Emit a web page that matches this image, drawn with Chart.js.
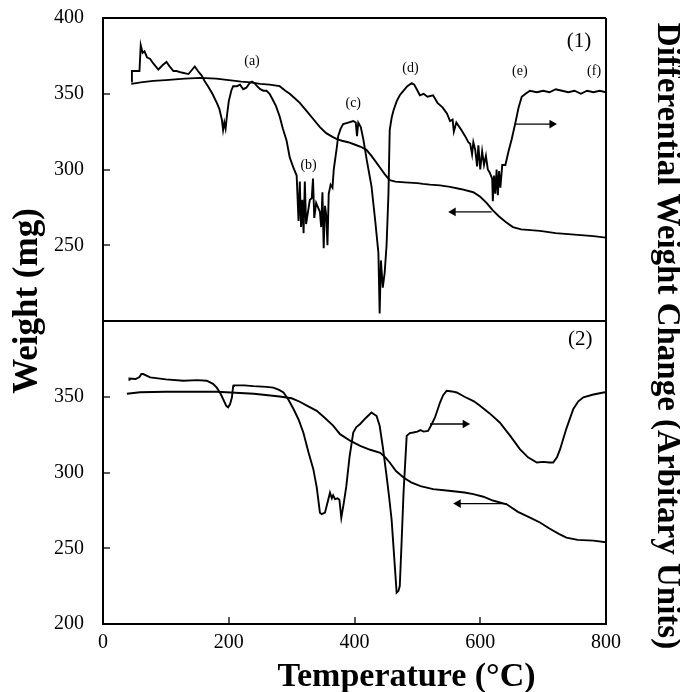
<!DOCTYPE html>
<html>
<head>
<meta charset="utf-8">
<script src="https://cdn.jsdelivr.net/npm/chart.js@4.4.1/dist/chart.umd.min.js"></script>
<style>
  body { margin: 0; background: #fff; }
</style>
</head>
<body>
<canvas id="myChart" width="680" height="692"></canvas>
<script>
// panel (1): weight curve
var temp1W = [45, 60, 80, 100, 130, 155, 180, 200, 220, 235, 250, 265, 281, 290, 297, 305, 313, 325, 335, 345, 355, 365, 372, 380, 390, 400, 410, 419, 427, 434, 441, 448, 456, 465, 480, 500, 509, 520, 536, 552, 570, 589, 600, 610, 620, 630, 640, 652, 665, 680, 695, 720, 750, 780, 800];
var weight1 = [356.5, 357.5, 358.5, 359, 360, 360.5, 360, 359, 358, 357.5, 356.5, 356, 355, 352, 350, 347, 344, 338, 333, 328, 324, 321.5, 320, 319, 318, 316.5, 315, 313, 309, 305, 301, 297, 293, 292, 291.5, 291, 290.5, 290, 289.5, 288.5, 287, 285, 282, 278, 273, 269, 265.5, 262, 260.5, 260, 259.5, 258, 257, 256, 255];

// panel (1): differential curve
var temp1D = [45, 46, 58, 60, 63, 66, 70, 75, 80, 88, 95, 101, 106, 112, 117, 125, 136, 142, 146, 151, 157, 162, 167, 174, 181, 185, 189, 191, 193, 195, 197, 200, 204, 207, 213, 218, 223, 228, 233, 237, 241, 245, 250, 255, 260, 265, 270, 275, 281, 286, 292, 297, 303, 308, 311, 313, 315, 317, 319, 321, 323, 326, 329, 332, 334, 336, 339, 342, 345, 347, 349, 351, 353, 355, 357, 359, 362, 365, 367, 369, 372, 374, 378, 382, 390, 398, 402, 404, 406, 410, 414, 420, 427, 433, 438, 440, 442, 445, 448, 451, 454, 456, 459, 462, 467, 472, 478, 484, 491, 495, 499, 504, 510, 516, 525, 532, 540, 547, 552, 556, 558, 562, 570, 576, 581, 584, 587, 589, 592, 595, 597, 600, 603, 606, 609, 612, 615, 619, 620, 622, 624, 626, 628, 630, 632, 635, 640, 645, 650, 656, 661, 666, 672, 679, 690, 700, 710, 720, 730, 740, 750, 760, 770, 780, 790, 800];
var dtg1 = [358, 365, 365, 382, 377, 378, 374, 373, 370, 366, 369, 371, 368, 365, 365, 364, 363, 366, 368, 365, 362, 358, 355, 350, 344, 340, 333, 326, 331, 327, 335, 345, 352, 355, 355, 356, 353, 354, 357, 358, 357, 355, 353, 352, 352, 350, 346, 342, 335, 327, 319, 308, 301, 296, 266, 292, 262, 280, 258, 292, 264, 272, 280, 281, 294, 268, 278, 275, 272, 262, 285, 248, 276, 270, 250, 284, 290, 288, 300, 306, 315, 322, 327, 330, 331, 332, 331, 322, 331, 328, 320, 305, 289, 266, 245, 205, 240, 222, 232, 250, 284, 326, 334, 339, 345, 349, 352, 355, 357, 356, 353, 349, 350, 348, 349, 344, 341, 337, 332, 333, 325, 331, 326, 322, 318, 317, 310, 318, 313, 302, 316, 300, 312, 303, 309, 300, 298, 294, 279, 296, 284, 300, 283, 299, 288, 303, 303, 312, 320, 331, 341, 348, 350, 352, 351, 352, 351, 353, 352, 351, 352, 350, 352, 351, 352, 351];

// panel (2): weight curve
var temp2W = [38, 59, 100, 181, 240, 281, 300, 313, 325, 340, 353, 366, 377, 393, 409, 425, 441, 449, 456, 466, 478, 490, 505, 525, 550, 575, 589, 605, 620, 642, 660, 680, 695, 710, 725, 737, 755, 780, 800];
var weight2 = [352, 353, 353.3, 353.3, 352, 350.2, 349, 346.7, 344, 340.7, 336, 331, 325.3, 321, 317.6, 315, 313, 310, 306.6, 301, 296.7, 293.5, 291, 289, 288, 286.8, 285.7, 284, 281.5, 279, 274, 270, 267, 263, 259.5, 257, 255.5, 255, 254];

// panel (2): differential curve
var temp2D = [42, 42, 52, 58, 61, 64, 75, 100, 128, 150, 165, 175, 181, 187, 191, 196, 199, 202, 205, 207, 208, 225, 239, 260, 271, 280, 287, 295, 303, 311, 318.6, 327, 334.5, 340, 345, 348, 353, 357, 361, 364, 366, 369, 373, 376, 379, 383, 387, 392, 398, 403, 409, 418, 427, 431, 435, 440, 445, 451, 455, 459, 463, 467, 470, 472, 475, 478, 483, 488, 493.5, 500, 505, 510, 517, 523, 528, 536, 541, 546.6, 555, 562.6, 575, 590, 599.6, 615, 631, 648, 663, 676, 690, 700, 710, 716, 722, 727, 737, 748, 756, 764, 780, 796, 800];
var dtg2 = [360.6, 362, 361.7, 363, 365, 365, 362.8, 361.5, 360.6, 361, 360.6, 358.5, 356, 352, 348.5, 344, 343, 345, 349.5, 357, 357.5, 357.5, 357, 356.5, 356, 354.5, 352.8, 348, 341.9, 335, 326.4, 313, 302.2, 290, 273.5, 272.5, 273.5, 280, 286.7, 283, 285, 282.4, 283, 282, 270.2, 280, 291, 310, 326.4, 330, 332, 336, 339.6, 338.5, 337.4, 330.8, 317, 297.8, 284, 269, 245, 220.7, 222, 225, 255, 286.7, 324.2, 326, 326.4, 327, 328, 327, 327.5, 332, 336.3, 346.2, 351, 354, 353.5, 352.8, 350, 347, 344, 339, 333, 324, 315.4, 310, 306.6, 307, 306.6, 306.6, 310, 315.4, 329, 341.9, 347, 349.6, 351.5, 352.8, 353];

// arrows: [x from, x to], y
var arrow1R = [655, 714], arrow1RY = 330;
var arrow1L = [557, 618], arrow1LY = 272;
var arrow2R = [520, 576], arrow2RY = 332;
var arrow2L = [565, 642], arrow2LY = 279.5;

// peak labels on panel (1)
var peakNames = ["(a)", "(b)", "(c)", "(d)", "(e)", "(f)"];
var peakT = [237, 327, 398, 489, 663, 781];
var peakY = [371.4, 303, 343.8, 367, 364.8, 364.8];
var panelNames = ["(1)", "(2)"];
var panelT = [757, 759];
var panelY = [384.6, 388];

var xTicks = [0, 200, 400, 600, 800];
var xTitle = "Temperature (°C)";
var leftTitle = "Weight (mg)";
var rightTitle = "Differential Weight Change (Arbitary Units)";

function pairs(xs, ys) {
  return xs.map(function (x, i) { return { x: x, y: ys[i] }; });
}
function flat(xs, y) {
  return xs.map(function (x) { return { x: x, y: y }; });
}

Chart.defaults.font.family = "'Liberation Serif', 'Times New Roman', serif";
Chart.defaults.color = "#000";

var curve = { borderColor: "#000", borderWidth: 1.9, pointRadius: 0, tension: 0, fill: false };
function arrow(xs, y, axis, headFirst) {
  return {
    data: flat(xs, y), yAxisID: axis, borderColor: "#000", borderWidth: 1.3,
    pointStyle: "triangle", pointRadius: headFirst ? [5, 0] : [0, 5],
    rotation: headFirst ? -90 : 90, pointBackgroundColor: "#000", pointBorderColor: "#000", pointBorderWidth: 0
  };
}

// peak / panel labels and the three axis titles
var labelPlugin = {
  id: "labelPlugin",
  afterDraw: function (chart) {
    var ctx = chart.ctx, sx = chart.scales.x, a = chart.chartArea;
    ctx.save();
    ctx.fillStyle = "#000";
    ctx.textAlign = "center";
    ctx.textBaseline = "middle";
    ctx.font = "14px 'Liberation Serif'";
    peakNames.forEach(function (t, i) {
      ctx.fillText(t, sx.getPixelForValue(peakT[i]), chart.scales.yTop.getPixelForValue(peakY[i]));
    });
    ctx.font = "21px 'Liberation Serif'";
    ctx.fillText(panelNames[0], sx.getPixelForValue(panelT[0]), chart.scales.yTop.getPixelForValue(panelY[0]));
    ctx.fillText(panelNames[1], sx.getPixelForValue(panelT[1]), chart.scales.yBot.getPixelForValue(panelY[1]));

    ctx.textBaseline = "alphabetic";
    ctx.font = "bold 34px 'Liberation Serif'";
    ctx.fillText(xTitle, (a.left + a.right) / 2 + 52, chart.height - 6);

    ctx.save();
    ctx.translate(37, (a.top + a.bottom) / 2 - 20);
    ctx.rotate(-Math.PI / 2);
    ctx.font = "bold 35px 'Liberation Serif'";
    ctx.fillText(leftTitle, 0, 0);
    ctx.restore();

    ctx.save();
    ctx.translate(658, (a.top + a.bottom) / 2 + 15);
    ctx.rotate(Math.PI / 2);
    ctx.font = "bold 33px 'Liberation Serif'";
    ctx.fillText(rightTitle, 0, 0);
    ctx.restore();
    ctx.restore();
  }
};

function edgeGrid(edgeValue) {
  return {
    drawOnChartArea: true, drawTicks: true, tickLength: -7, tickColor: "#000", tickWidth: 1.3,
    lineWidth: 2,
    color: function (c) { return c.tick && c.tick.value === edgeValue ? "#000" : "rgba(0,0,0,0)"; }
  };
}
function panelFit(s) {
  s.width = 61;
  s.paddingTop = 0;
  s.paddingBottom = 0;
}

var ctx = document.getElementById("myChart").getContext("2d");
var chart = new Chart(ctx, {
  type: "line",
  data: {
    datasets: [
      Object.assign({ data: pairs(temp1W, weight1), yAxisID: "yTop" }, curve),
      Object.assign({ data: pairs(temp1D, dtg1), yAxisID: "yTop" }, curve),
      Object.assign({ data: pairs(temp2W, weight2), yAxisID: "yBot" }, curve),
      Object.assign({ data: pairs(temp2D, dtg2), yAxisID: "yBot" }, curve),
      arrow(arrow1R, arrow1RY, "yTop", false),
      arrow(arrow1L, arrow1LY, "yTop", true),
      arrow(arrow2R, arrow2RY, "yBot", false),
      arrow(arrow2L, arrow2LY, "yBot", true)
    ]
  },
  options: {
    responsive: false,
    animation: false,
    layout: { padding: { top: 18, left: 42, right: 74, bottom: 0 } },
    plugins: { legend: { display: false }, tooltip: { enabled: false } },
    scales: {
      x: {
        type: "linear", min: 0, max: 800,
        afterBuildTicks: function (s) { s.ticks = xTicks.map(function (v) { return { value: v }; }); },
        ticks: { font: { size: 20 }, padding: 14, maxRotation: 0 },
        grid: edgeGrid(800),
        border: { display: true, color: "#000", width: 2 },
        afterFit: function (s) { s.height = 68; }
      },
      yTop: {
        type: "linear", position: "left", stack: "panels", stackWeight: 1, weight: 2,
        min: 200, max: 400,
        ticks: { stepSize: 50, font: { size: 20 }, padding: 26, callback: function (v) { return v === 200 ? "" : v; } },
        grid: edgeGrid(400),
        border: { display: true, color: "#000", width: 2 },
        afterFit: panelFit
      },
      yBot: {
        type: "linear", position: "left", stack: "panels", stackWeight: 1, weight: 1,
        min: 200, max: 400,
        ticks: { stepSize: 50, font: { size: 20 }, padding: 26, callback: function (v) { return v === 400 ? "" : v; } },
        grid: edgeGrid(400),
        border: { display: true, color: "#000", width: 2 },
        afterFit: panelFit
      }
    }
  },
  plugins: [labelPlugin]
});
</script>
</body>
</html>
